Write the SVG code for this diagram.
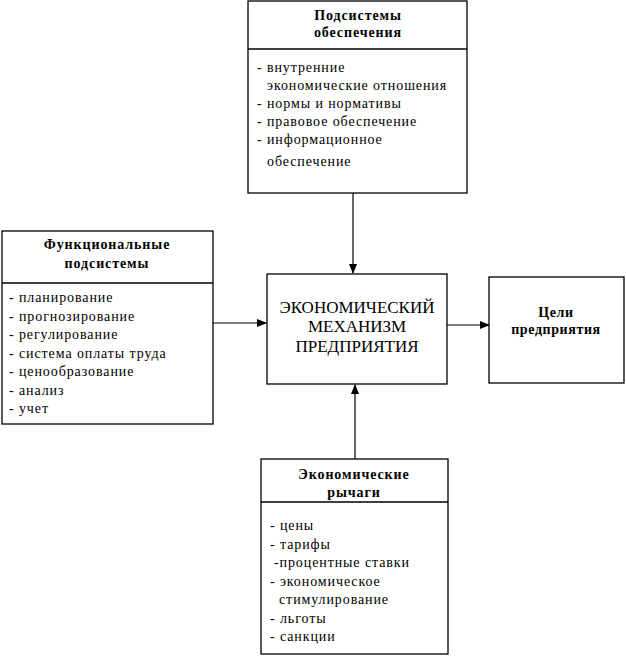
<svg xmlns="http://www.w3.org/2000/svg" width="626" height="658" viewBox="0 0 626 658">
<style>
.box{fill:#fff;stroke:#000;stroke-width:1.3}
.div{stroke:#000;stroke-width:1.3}
.t{font-family:"Liberation Serif","Times New Roman",serif;font-size:14px;letter-spacing:0.9px;fill:#000}
.h{font-family:"Liberation Serif","Times New Roman",serif;font-size:14px;font-weight:bold;letter-spacing:0.9px;fill:#000;text-anchor:middle}
.m{font-family:"Liberation Serif","Times New Roman",serif;font-size:17px;fill:#000;text-anchor:middle}
.c{stroke:#000;stroke-width:1.2;fill:none}
</style>
<defs>
<marker id="arr" markerWidth="10" markerHeight="10" refX="9" refY="5" orient="auto" markerUnits="userSpaceOnUse">
<path d="M0,1 L10,5 L0,9 Z" fill="#000"/>
</marker>
</defs>
<rect width="626" height="658" fill="#fff"/>
<g id="connectors">
<line class="c" x1="353" y1="193" x2="353" y2="273" marker-end="url(#arr)"/>
<line class="c" x1="213" y1="323" x2="266" y2="323" marker-end="url(#arr)"/>
<line class="c" x1="447" y1="325" x2="489" y2="325" marker-end="url(#arr)"/>
<line class="c" x1="355" y1="459" x2="355" y2="385" marker-end="url(#arr)"/>
</g>
<g id="support">
<rect class="box" x="248" y="1" width="219" height="192"/>
<line class="div" x1="248" y1="49" x2="467" y2="49"/>
<text class="h" x="358" y="20">Подсистемы</text>
<text class="h" x="358" y="37">обеспечения</text>
<text class="t" x="257" y="72">- внутренние</text>
<text class="t" x="267" y="90">экономические отношения</text>
<text class="t" x="257" y="108">- нормы и нормативы</text>
<text class="t" x="257" y="126">- правовое обеспечение</text>
<text class="t" x="257" y="144">- информационное</text>
<text class="t" x="267" y="166">обеспечение</text>
</g>
<g id="functional">
<rect class="box" x="2" y="231" width="211" height="193"/>
<line class="div" x1="2" y1="283" x2="213" y2="283"/>
<text class="h" x="107" y="249">Функциональные</text>
<text class="h" x="107" y="268">подсистемы</text>
<text class="t" x="9" y="302">- планирование</text>
<text class="t" x="9" y="320.5">- прогнозирование</text>
<text class="t" x="9" y="339">- регулирование</text>
<text class="t" x="9" y="357.5">- система оплаты труда</text>
<text class="t" x="9" y="376">- ценообразование</text>
<text class="t" x="9" y="394.5">- анализ</text>
<text class="t" x="9" y="413">- учет</text>
</g>
<g id="mechanism">
<rect class="box" x="267" y="274" width="180" height="110"/>
<text class="m" x="357" y="313">ЭКОНОМИЧЕСКИЙ</text>
<text class="m" x="357" y="332">МЕХАНИЗМ</text>
<text class="m" x="357" y="352">ПРЕДПРИЯТИЯ</text>
</g>
<g id="goals">
<rect class="box" x="489" y="277" width="135" height="106"/>
<text class="h" x="556" y="317" style="letter-spacing:0.6px">Цели</text>
<text class="h" x="556" y="334" style="letter-spacing:0.6px">предприятия</text>
</g>
<g id="levers">
<rect class="box" x="261" y="459" width="187" height="195"/>
<line class="div" x1="261" y1="502" x2="448" y2="502"/>
<text class="h" x="354" y="479">Экономические</text>
<text class="h" x="354" y="497">рычаги</text>
<text class="t" x="270" y="530">- цены</text>
<text class="t" x="270" y="548.5">- тарифы</text>
<text class="t" x="274" y="567">-процентные ставки</text>
<text class="t" x="270" y="585.5">- экономическое</text>
<text class="t" x="279" y="604">стимулирование</text>
<text class="t" x="270" y="622.5">- льготы</text>
<text class="t" x="270" y="641">- санкции</text>
</g>
</svg>
